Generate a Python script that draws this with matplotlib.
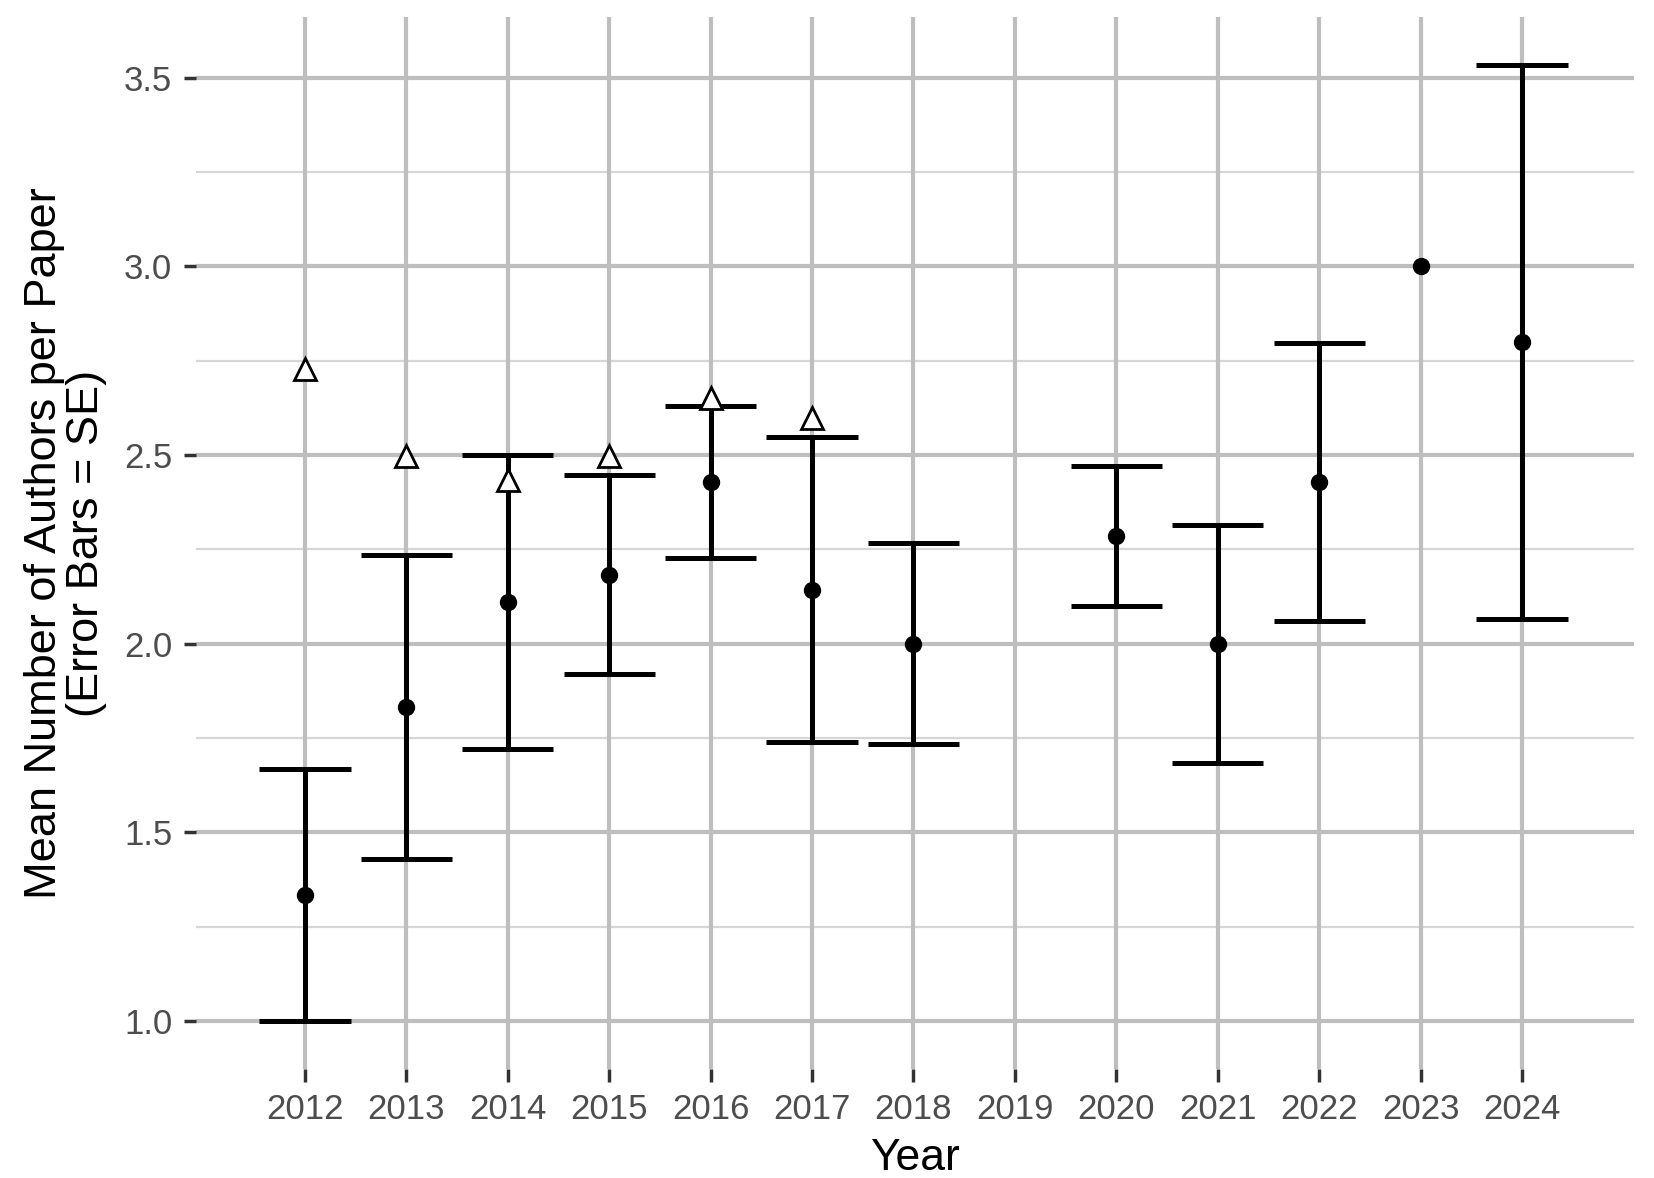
import numpy as np
import matplotlib
matplotlib.use("Agg")
import matplotlib.pyplot as plt

years = [2012, 2013, 2014, 2015, 2016, 2017, 2018, 2019, 2020, 2021, 2022, 2023, 2024]
mean_authors = [1.333, 1.833, 2.111, 2.182, 2.429, 2.143, 2.0, np.nan, 2.286, 2.0, 2.429, 3.0, 2.8]
se_lower = [1.0, 1.43, 1.722, 1.92, 2.227, 1.74, 1.733, np.nan, 2.1, 1.684, 2.06, np.nan, 2.066]
se_upper = [1.667, 2.236, 2.5, 2.446, 2.631, 2.547, 2.267, np.nan, 2.47, 2.316, 2.798, np.nan, 3.534]
tri_years = [2012, 2013, 2014, 2015, 2016, 2017]
tri_values = [2.728, 2.498, 2.434, 2.498, 2.65, 2.599]

plt.rcParams['font.family'] = ['Liberation Sans', 'DejaVu Sans']

W, H = 1654, 1178
fig = plt.figure(figsize=(W / 100, H / 100), dpi=100)
left, right, top, bottom = 196, 1634, 17, 1069
ax = fig.add_axes([left / W, 1 - bottom / H, (right - left) / W, (bottom - top) / H])

major_c = '#BEBEBE'
minor_c = '#D6D6D6'
for y in [1.0, 1.5, 2.0, 2.5, 3.0, 3.5]:
    ax.axhline(y, color=major_c, lw=3.0, zorder=0)
for y in [1.25, 1.75, 2.25, 2.75, 3.25]:
    ax.axhline(y, color=minor_c, lw=1.6, zorder=0)
for x in years:
    ax.axvline(x, color=major_c, lw=3.0, zorder=0)

yrs = np.array(years, dtype=float)
lo = np.array(se_lower)
hi = np.array(se_upper)
m = np.array(mean_authors)
ok = ~np.isnan(lo)
ax.vlines(yrs[ok], lo[ok], hi[ok], color='black', lw=3.6, zorder=3)
half = 0.45
for x, a, b in zip(yrs[ok], lo[ok], hi[ok]):
    ax.plot([x - half, x + half], [a, a], color='black', lw=3.6, solid_capstyle='butt', zorder=3)
    ax.plot([x - half, x + half], [b, b], color='black', lw=3.6, solid_capstyle='butt', zorder=3)
ax.plot(yrs, m, 'o', color='black', ms=11.5, zorder=4, linestyle='none')
ax.plot(tri_years, tri_values, '^', ms=15.5, mfc='white', mec='black', mew=2.0, linestyle='none', zorder=5)

ax.set_xlim(2012 - 109 / 101.4, 2024 + 112 / 101.4)
ax.set_ylim(0.873, 3.661)
ax.set_xticks(years)
ax.set_xticklabels([str(y) for y in years])
ax.set_yticks([1.0, 1.5, 2.0, 2.5, 3.0, 3.5])
ax.set_yticklabels(['1.0', '1.5', '2.0', '2.5', '3.0', '3.5'])
ax.tick_params(axis='both', length=9, width=2.5, color='#333333', labelcolor='#4D4D4D',
               labelsize=25, pad=8)
for s in ax.spines.values():
    s.set_visible(False)
ax.set_xlabel('Year', fontsize=32, color='black', labelpad=9)
ax.set_ylabel('Mean Number of Authors per Paper\n(Error Bars = SE)', fontsize=32.5,
              color='black', labelpad=12, linespacing=1.05)

fig.savefig('out.png', dpi=100, facecolor='white')
